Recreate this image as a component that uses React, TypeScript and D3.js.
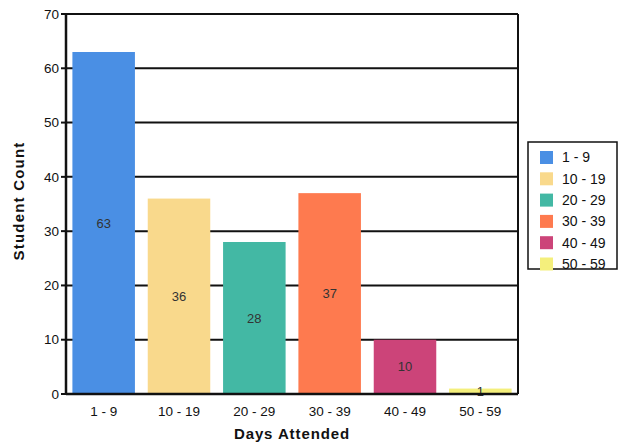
import React from "react";
import * as d3 from "d3";

const categories = ["1 - 9", "10 - 19", "20 - 29", "30 - 39", "40 - 49", "50 - 59"];
const counts = [63, 36, 28, 37, 10, 1];
const colors = ["#4a8fe4", "#f9d98c", "#43b8a4", "#fe7a4f", "#cc4479", "#f4ef7c"];
const yTicks = [0, 10, 20, 30, 40, 50, 60, 70];

const W = 626, H = 445;
const M = { left: 66, right: 518, top: 14, bottom: 394 };

export default function App() {
  const x = d3.scaleBand<string>().domain(categories).range([M.left, M.right]).paddingInner(0.17).paddingOuter(0.085);
  const y = d3.scaleLinear().domain([0, 70]).range([M.bottom, M.top]);
  const font = "Arial, 'Liberation Sans', sans-serif";
  return (
    <svg width={W} height={H} style={{ position: "absolute", left: 0, top: 0, background: "#fff" }} fontFamily={font}>
      <rect x={0} y={0} width={W} height={H} fill="#fff" />
      {yTicks.map((t) => (
        <g key={t}>
          <line x1={M.left} x2={M.right} y1={y(t)} y2={y(t)} stroke="#111" strokeWidth={2} />
          <line x1={M.left - 5} x2={M.left} y1={y(t)} y2={y(t)} stroke="#111" strokeWidth={2} />
          <text x={M.left - 7} y={y(t)} dy="0.35em" textAnchor="end" fontSize={13.5} fill="#111">{t}</text>
        </g>
      ))}
      {categories.map((c, i) => (
        <g key={c}>
          <rect x={x(c)} y={y(counts[i])} width={x.bandwidth()} height={y(0) - y(counts[i])} fill={colors[i]} />
          <text x={(x(c) as number) + x.bandwidth() / 2} y={(y(counts[i]) + y(0)) / 2} dy="0.35em" textAnchor="middle" fontSize={13} fill="#333">{counts[i]}</text>
          <text x={(x(c) as number) + x.bandwidth() / 2} y={411} dy="0.35em" textAnchor="middle" fontSize={13.5} fill="#111">{c}</text>
        </g>
      ))}
      <line x1={M.right} x2={M.right} y1={M.top} y2={M.bottom} stroke="#111" strokeWidth={2} />
      <line x1={M.left} x2={M.left} y1={M.top} y2={M.bottom + 1} stroke="#111" strokeWidth={2.5} />
      <line x1={M.left} x2={M.right} y1={M.bottom} y2={M.bottom} stroke="#111" strokeWidth={2.5} />
      <text x={292} y={434} dy="0.35em" textAnchor="middle" fontSize={15} fontWeight="bold" fill="#111" letterSpacing={0.9}>Days Attended</text>
      <text transform={`translate(19,201) rotate(-90)`} dy="0.35em" textAnchor="middle" fontSize={15} fontWeight="bold" fill="#111" letterSpacing={1.2}>Student Count</text>
      <rect x={528} y={142} width={89} height={127} fill="#fff" stroke="#111" strokeWidth={1.5} />
      {categories.map((c, i) => (
        <g key={"l" + c}>
          <rect x={540} y={151 + i * 21.3} width={13} height={13} fill={colors[i]} />
          <text x={562} y={157.5 + i * 21.3} dy="0.35em" fontSize={14} fill="#111">{c}</text>
        </g>
      ))}
    </svg>
  );
}
